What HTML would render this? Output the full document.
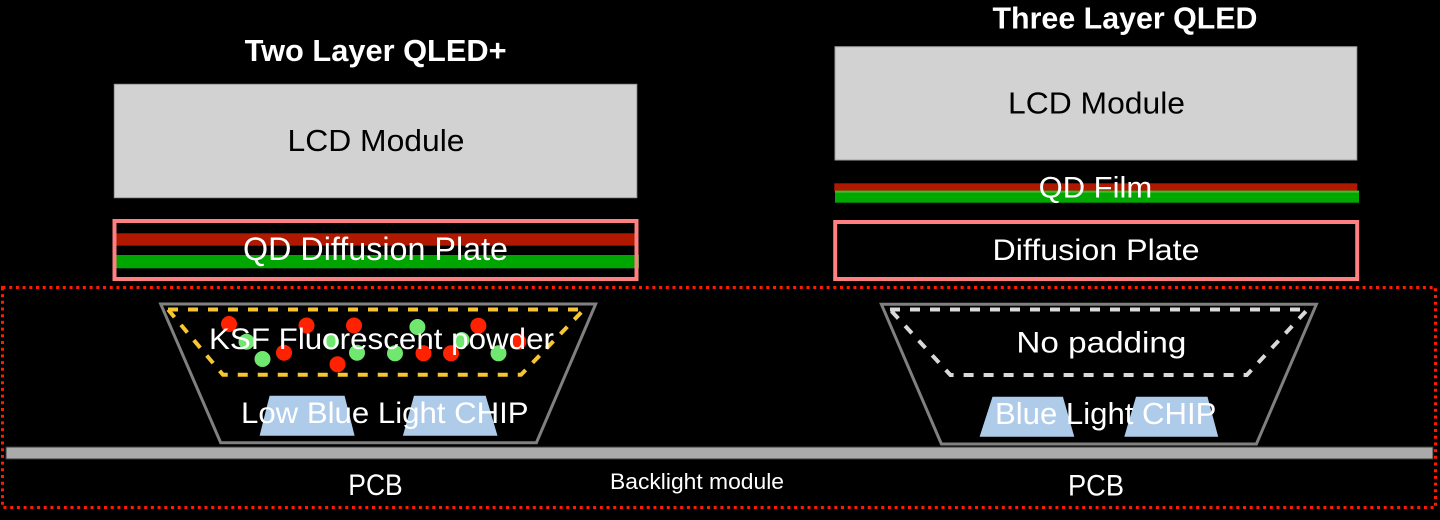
<!DOCTYPE html>
<html>
<head>
<meta charset="utf-8">
<style>
  html,body{margin:0;padding:0;background:#000;}
  svg{display:block;}
  text{font-family:"Liberation Sans", "DejaVu Sans", sans-serif;}
</style>
</head>
<body>
<svg width="1440" height="520" viewBox="0 0 1440 520" xmlns="http://www.w3.org/2000/svg">
  <rect x="0" y="0" width="1440" height="520" fill="#000"/>

  <!-- Backlight module dotted frame -->
  <rect x="2.5" y="287.5" width="1433" height="220" fill="none" stroke="#ff1a00" stroke-width="3" stroke-dasharray="3 3.7"/>

  <!-- PCB bar -->
  <rect x="6" y="447" width="1427" height="12" fill="#aaaaaa" stroke="#3a3a3a" stroke-width="1"/>

  <!-- Titles -->
  <text x="244.6" y="61" font-size="31" font-weight="bold" fill="#fff" textLength="262" lengthAdjust="spacingAndGlyphs">Two Layer QLED+</text>
  <text x="992.5" y="28.3" font-size="31" font-weight="bold" fill="#fff" textLength="265" lengthAdjust="spacingAndGlyphs">Three Layer QLED</text>

  <!-- LCD modules -->
  <rect x="114.3" y="84.3" width="522.5" height="113.4" fill="#d2d2d2" stroke="#a0a0a0" stroke-width="1"/>
  <text x="287.5" y="151" font-size="31" fill="#000" textLength="177" lengthAdjust="spacingAndGlyphs">LCD Module</text>
  <rect x="835" y="46.7" width="521.8" height="113.3" fill="#d2d2d2" stroke="#a0a0a0" stroke-width="1"/>
  <text x="1008" y="113.3" font-size="31" fill="#000" textLength="177" lengthAdjust="spacingAndGlyphs">LCD Module</text>

  <!-- Left QD Diffusion Plate -->
  <rect x="116" y="233.3" width="521" height="12.4" fill="#b01800"/>
  <rect x="116" y="255" width="523" height="13.3" fill="#00a600"/>
  <rect x="114.5" y="221" width="522" height="58" fill="none" stroke="#ff8080" stroke-width="4"/>
  <text x="243" y="260" font-size="32" fill="#fff" textLength="265" lengthAdjust="spacingAndGlyphs">QD Diffusion Plate</text>

  <!-- Right QD Film -->
  <rect x="834.3" y="183.3" width="523" height="8" fill="#b01800"/>
  <rect x="835" y="190.7" width="524" height="12" fill="#00a800"/>
  <rect x="835" y="190.7" width="524" height="2" fill="#3cbc2c"/>
  <text x="1038.6" y="197.3" font-size="30" fill="#fff" textLength="113.6" lengthAdjust="spacingAndGlyphs">QD Film</text>

  <!-- Right Diffusion Plate -->
  <rect x="835.2" y="222" width="522" height="57" fill="none" stroke="#ff8080" stroke-width="4"/>
  <text x="992.5" y="260" font-size="30" fill="#fff" textLength="207" lengthAdjust="spacingAndGlyphs">Diffusion Plate</text>

  <!-- Left LED cup -->
  <polygon points="160.7,304 595.7,304 536.4,442.7 220.7,442.7" fill="none" stroke="#808080" stroke-width="3"/>
  <polygon points="168,309.5 584,309.5 521,374.8 223,374.8" fill="none" stroke="#f8c630" stroke-width="4" stroke-dasharray="10 10"/>

  <!-- dots -->
  <g fill="#ff2200">
    <circle cx="229" cy="324" r="8"/>
    <circle cx="284" cy="352.7" r="8"/>
    <circle cx="306.5" cy="325.5" r="8"/>
    <circle cx="337.5" cy="364.3" r="8"/>
    <circle cx="354" cy="325.5" r="8"/>
    <circle cx="423.5" cy="353.3" r="8"/>
    <circle cx="451" cy="353.3" r="8"/>
    <circle cx="478.4" cy="325.7" r="8"/>
    <circle cx="518.3" cy="341.7" r="8"/>
  </g>
  <g fill="#70e870">
    <circle cx="246.5" cy="341.7" r="8"/>
    <circle cx="262.5" cy="359" r="8"/>
    <circle cx="331" cy="341.7" r="8"/>
    <circle cx="357" cy="352.7" r="8"/>
    <circle cx="395" cy="353.3" r="8"/>
    <circle cx="417.4" cy="327" r="8"/>
    <circle cx="461.7" cy="340" r="8"/>
    <circle cx="498.5" cy="353.3" r="8"/>
  </g>
  <text x="209" y="349" font-size="30" fill="#fff" textLength="345" lengthAdjust="spacingAndGlyphs">KSF Fluorescent powder</text>

  <!-- left chips -->
  <g fill="#aecbea">
    <polygon points="269.6,395.7 344.6,395.7 354.6,435.7 259.6,435.7"/>
    <polygon points="414,395.7 485.7,395.7 497.5,435.7 402.9,435.7"/>
  </g>
  <text x="241" y="423" font-size="30" fill="#fff" textLength="287.6" lengthAdjust="spacingAndGlyphs">Low Blue Light CHIP</text>

  <!-- Right LED cup -->
  <polygon points="881.4,304.3 1316.4,304.3 1256.4,444 941.4,444" fill="none" stroke="#808080" stroke-width="3"/>
  <polygon points="890,309.5 1307.5,309.5 1246.8,375 950.4,375" fill="none" stroke="#d9d9d9" stroke-width="4" stroke-dasharray="10 10"/>
  <text x="1016.4" y="352.7" font-size="30" fill="#fff" textLength="170" lengthAdjust="spacingAndGlyphs">No padding</text>

  <g fill="#aecbea">
    <polygon points="992.5,396.7 1062.9,396.7 1074.3,436.7 979.6,436.7"/>
    <polygon points="1136,396.7 1207.5,396.7 1218.2,436.7 1124.3,436.7"/>
  </g>
  <text x="995" y="424" font-size="31" fill="#fff" textLength="221.4" lengthAdjust="spacingAndGlyphs">Blue Light CHIP</text>

  <!-- Bottom labels -->
  <text x="348.3" y="495" font-size="30" fill="#fff" textLength="54.4" lengthAdjust="spacingAndGlyphs">PCB</text>
  <text x="1068" y="495.5" font-size="30" fill="#fff" textLength="56" lengthAdjust="spacingAndGlyphs">PCB</text>
  <text x="610" y="489" font-size="22" fill="#fff" textLength="174" lengthAdjust="spacingAndGlyphs">Backlight module</text>
</svg>
</body>
</html>
